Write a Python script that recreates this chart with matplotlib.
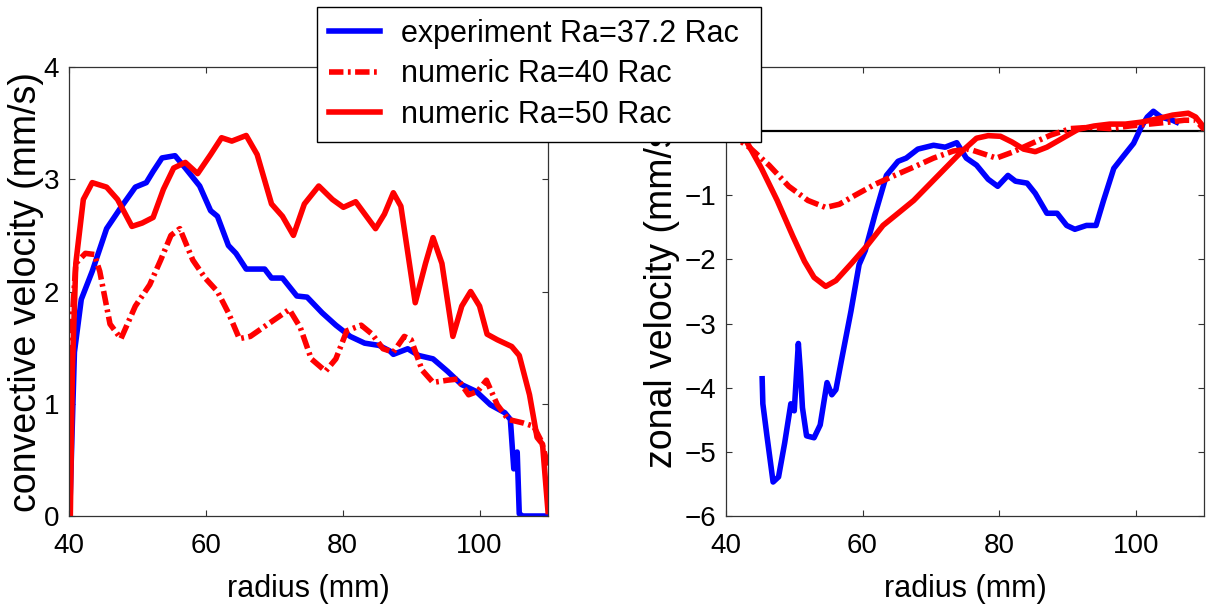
import matplotlib.pyplot as plt

plt.rcParams['font.family'] = ['Liberation Sans', 'DejaVu Sans']

# convective velocity (mm/s) against radius (mm)
exp_conv_r = [40.1, 40.8, 41.8, 43.4, 45.5, 47.6, 49.7, 51.3, 52.3, 53.6, 55.5, 57.0,
              59.1, 60.7, 61.7, 63.3, 64.4, 65.9, 68.6, 69.6, 71.2, 73.3, 74.8, 77.0,
              79.0, 81.1, 83.2, 85.3, 86.9, 87.4, 89.5, 91.1, 93.2, 95.3, 97.4, 99.5,
              101.6, 103.7, 104.5, 105.0, 105.5, 105.8, 106.3, 110.0]
exp_conv_v = [0.0, 1.46, 1.93, 2.18, 2.56, 2.75, 2.93, 2.97, 3.07, 3.19, 3.21, 3.10,
              2.94, 2.72, 2.67, 2.41, 2.34, 2.20, 2.20, 2.12, 2.12, 1.96, 1.95, 1.81,
              1.70, 1.60, 1.54, 1.52, 1.47, 1.44, 1.49, 1.43, 1.40, 1.29, 1.17, 1.11,
              0.99, 0.92, 0.86, 0.42, 0.57, 0.02, 0.0, 0.0]

num40_conv_r = [40.1, 40.5, 41.0, 42.4, 43.7, 44.5, 46.0, 47.6, 49.7, 51.8, 53.4, 54.9,
                56.2, 58.1, 59.9, 61.7, 63.3, 64.9, 66.5, 69.1, 72.2, 73.8, 75.4, 77.5,
                79.0, 80.6, 82.7, 84.3, 85.9, 87.4, 89.0, 90.0, 91.6, 93.2, 95.3, 96.8,
                98.4, 99.7, 101.0, 102.6, 104.2, 106.3, 107.9, 109.0, 110.0]
num40_conv_v = [0.0, 1.77, 2.25, 2.34, 2.33, 2.18, 1.71, 1.58, 1.87, 2.06, 2.28, 2.50,
                2.56, 2.28, 2.12, 2.00, 1.81, 1.58, 1.60, 1.71, 1.84, 1.68, 1.40, 1.29,
                1.40, 1.65, 1.70, 1.62, 1.49, 1.46, 1.60, 1.57, 1.30, 1.19, 1.21, 1.22,
                1.08, 1.11, 1.21, 0.99, 0.86, 0.83, 0.80, 0.67, 0.45]

num50_conv_r = [40.2, 40.5, 41.0, 42.1, 43.4, 45.5, 47.1, 49.2, 50.7, 52.3, 53.8, 55.3,
                57.0, 58.8, 60.7, 62.3, 63.8, 65.9, 67.5, 69.6, 71.2, 72.8, 74.4, 76.5,
                78.5, 80.1, 81.9, 84.8, 86.1, 87.4, 88.5, 90.6, 92.1, 93.2, 94.5, 96.1,
                97.4, 98.7, 100.0, 101.1, 102.6, 104.7, 105.8, 107.3, 108.4, 109.2, 110.0]
num50_conv_v = [0.0, 1.30, 2.25, 2.82, 2.97, 2.93, 2.82, 2.58, 2.61, 2.66, 2.91, 3.10,
                3.15, 3.05, 3.22, 3.37, 3.34, 3.39, 3.22, 2.78, 2.67, 2.50, 2.78, 2.94,
                2.82, 2.75, 2.80, 2.56, 2.69, 2.88, 2.76, 1.90, 2.25, 2.48, 2.25, 1.60,
                1.87, 2.00, 1.87, 1.62, 1.57, 1.51, 1.43, 1.08, 0.70, 0.64, 0.04]

# zonal velocity (mm/s) against radius (mm)
exp_zon_r = [45.3, 45.4, 46.0, 46.9, 47.7, 48.6, 49.5, 50.0, 50.6, 50.9, 51.2, 51.8,
             52.9, 53.8, 54.8, 55.5, 56.1, 56.9, 58.3, 59.5, 60.4, 61.8, 63.5, 65.2,
             66.4, 68.1, 70.4, 72.1, 73.8, 75.2, 76.7, 78.4, 79.8, 81.3, 82.4, 84.1,
             85.3, 87.0, 88.5, 89.9, 91.1, 92.8, 94.2, 95.3, 96.8, 98.2, 99.7, 100.8,
             101.7, 102.6, 103.7, 105.4, 106.0]
exp_zon_v = [-3.86, -4.25, -4.75, -5.47, -5.39, -4.86, -4.25, -4.36, -3.31, -3.75, -4.31, -4.75,
             -4.78, -4.58, -3.92, -4.11, -4.03, -3.58, -2.81, -2.08, -1.86, -1.31, -0.69, -0.47,
             -0.42, -0.28, -0.22, -0.25, -0.18, -0.42, -0.53, -0.75, -0.86, -0.69, -0.78, -0.81,
             -0.97, -1.28, -1.28, -1.47, -1.53, -1.47, -1.47, -1.08, -0.58, -0.39, -0.19, 0.06,
             0.22, 0.31, 0.22, 0.17, 0.14]

num40_zon_r = [40.0, 43.4, 46.3, 49.2, 52.0, 54.6, 56.6, 58.9, 61.8, 64.7, 67.5, 70.4,
               73.3, 75.6, 77.9, 79.6, 81.9, 84.8, 87.6, 90.5, 93.4, 96.2, 99.1, 102.0,
               104.8, 107.1, 108.8, 110.0]
num40_zon_v = [0.0, -0.25, -0.53, -0.86, -1.08, -1.19, -1.14, -1.00, -0.83, -0.69, -0.56, -0.42,
               -0.31, -0.28, -0.36, -0.42, -0.33, -0.19, -0.06, 0.04, 0.06, 0.04, 0.08, 0.11,
               0.14, 0.17, 0.17, 0.03]

num50_zon_r = [40.0, 42.9, 45.2, 47.5, 49.8, 51.5, 52.9, 54.6, 56.1, 58.4, 60.7, 63.0,
               65.2, 67.5, 69.8, 72.1, 74.4, 76.7, 78.4, 80.2, 81.9, 83.6, 85.3, 87.0,
               89.3, 91.6, 93.9, 96.2, 98.5, 100.8, 103.1, 105.4, 107.7, 108.8, 110.0]
num50_zon_v = [0.0, -0.14, -0.58, -1.08, -1.64, -2.03, -2.28, -2.42, -2.33, -2.06, -1.78, -1.47,
               -1.28, -1.08, -0.83, -0.58, -0.33, -0.11, -0.07, -0.08, -0.17, -0.28, -0.32, -0.25,
               -0.11, 0.03, 0.08, 0.11, 0.11, 0.14, 0.19, 0.25, 0.28, 0.22, 0.06]

labels = ['experiment Ra=37.2 Rac', 'numeric Ra=40 Rac', 'numeric Ra=50 Rac']

lw = 4
dashdot = (0, (2.6, 0.8, 0.5, 0.8))

fig = plt.figure(figsize=(12.14, 6.07), dpi=100)
ax1 = fig.add_axes([0.0568, 0.1499, 0.3946, 0.7397])
ax2 = fig.add_axes([0.598, 0.1499, 0.3937, 0.7397])

ax1.plot(exp_conv_r, exp_conv_v, color='#0000ff', lw=lw, label=labels[0])
ax1.plot(num40_conv_r, num40_conv_v, color='#ff0000', lw=lw, ls=dashdot, label=labels[1])
ax1.plot(num50_conv_r, num50_conv_v, color='#ff0000', lw=lw, label=labels[2])
ax1.set_ylim(0, 4)
ax1.set_yticks([0, 1, 2, 3, 4])
ax1.set_ylabel('convective velocity (mm/s)', fontsize=27)
ax1.yaxis.set_label_coords(-0.052, 0.5)

ax2.axhline(0, color='k', lw=1.6, zorder=1)
ax2.plot(exp_zon_r, exp_zon_v, color='#0000ff', lw=lw)
ax2.plot(num40_zon_r, num40_zon_v, color='#ff0000', lw=lw, ls=dashdot)
ax2.plot(num50_zon_r, num50_zon_v, color='#ff0000', lw=lw)
ax2.set_ylim(-6, 1)
ax2.set_yticks([-6, -5, -4, -3, -2, -1, 0])
ax2.set_ylabel('zonal velocity (mm/s)', fontsize=27)
ax2.yaxis.set_label_coords(-0.096, 0.5)

for ax in (ax1, ax2):
    ax.set_xlim(40, 110)
    ax.set_xticks([40, 60, 80, 100])
    ax.set_xlabel('radius (mm)', fontsize=22)
    ax.xaxis.set_label_coords(0.5, -0.13)
    ax.tick_params(direction='in', top=True, right=True, length=4.5, width=0.8,
                   labelsize=20, color='#333333')
    ax.tick_params(axis='x', pad=12)
    ax.tick_params(axis='y', pad=7)
    for sp in ax.spines.values():
        sp.set_linewidth(0.9)
        sp.set_color('#333333')

leg = fig.legend(loc='upper left',
                 bbox_to_anchor=(317 / 1214, 1 - 142 / 607, 444 / 1214, 135 / 607),
                 mode='expand', fontsize=22, frameon=True, fancybox=False,
                 framealpha=1, edgecolor='black', borderaxespad=0, borderpad=0.38,
                 labelspacing=0.35, handlelength=1.67, handletextpad=0.7)
leg.get_frame().set_linewidth(1.0)

fig.savefig('out.png', dpi=100)
